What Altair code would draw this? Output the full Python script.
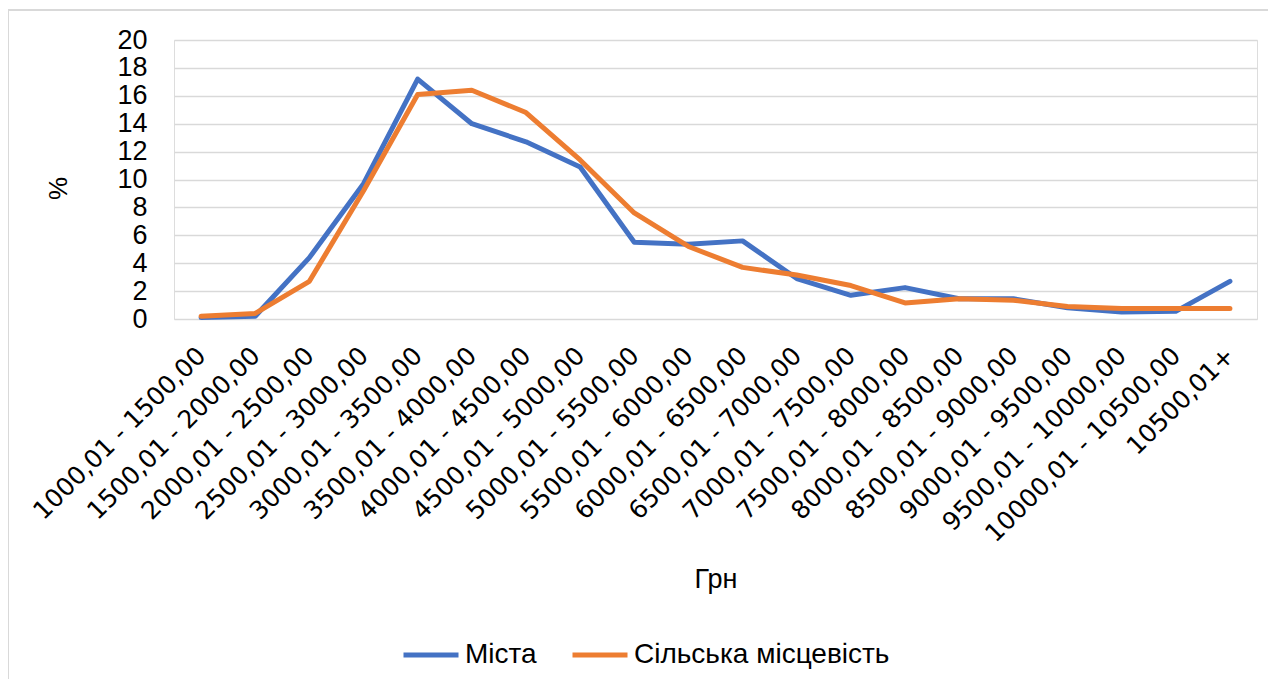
import altair as alt
import pandas as pd

categories = [
    "1000,01 - 1500,00", "1500,01 - 2000,00", "2000,01 - 2500,00", "2500,01 - 3000,00",
    "3000,01 - 3500,00", "3500,01 - 4000,00", "4000,01 - 4500,00", "4500,01 - 5000,00",
    "5000,01 - 5500,00", "5500,01 - 6000,00", "6000,01 - 6500,00", "6500,01 - 7000,00",
    "7000,01 - 7500,00", "7500,01 - 8000,00", "8000,01 - 8500,00", "8500,01 - 9000,00",
    "9000,01 - 9500,00", "9500,01 - 10000,00", "10000,01 - 10500,00", "10500,01+",
]
cities = [0.1, 0.2, 4.4, 9.7, 17.2, 14.0, 12.7, 10.9, 5.5, 5.35, 5.6, 2.9, 1.7, 2.25,
          1.45, 1.45, 0.8, 0.5, 0.55, 2.7]
rural = [0.2, 0.4, 2.7, 9.2, 16.1, 16.4, 14.8, 11.4, 7.6, 5.2, 3.7, 3.15, 2.4, 1.15,
         1.45, 1.35, 0.9, 0.75, 0.75, 0.75]
series_names = ["Міста", "Сільська місцевість"]
colors = ["#4472C4", "#ED7D31"]

rows = []
for i, c in enumerate(categories):
    rows.append({"cat": c, "series": series_names[0], "value": cities[i], "order": 0})
    rows.append({"cat": c, "series": series_names[1], "value": rural[i], "order": 1})
df = pd.DataFrame(rows)

frame = alt.Chart(pd.DataFrame({"a": [0]})).mark_rect(
    fillOpacity=0, stroke="#d9d9d9", strokeWidth=2
).encode(
    x=alt.value(-166), x2=alt.value(1200), y=alt.value(-30), y2=alt.value(700)
)

lines = alt.Chart(df).mark_line(strokeWidth=5, strokeCap="round", strokeJoin="round").encode(
    x=alt.X("cat:N", sort=categories, scale=alt.Scale(type="point", padding=0.5),
            axis=alt.Axis(title="Грн", labelAngle=-45, labelAlign="right", labelBaseline="middle",
                          labelFont="DejaVu Sans", labelFontSize=25, labelColor="#000000",
                          labelPadding=32, labelOverlap=False, labelLimit=400,
                          ticks=False, domain=False, grid=False,
                          titleFont="Liberation Sans", titleFontSize=27, titleFontWeight="normal",
                          titleColor="#000000", titleY=260, titleBaseline="middle")),
    y=alt.Y("value:Q", scale=alt.Scale(domain=[0, 20], nice=False),
            axis=alt.Axis(title="%", values=list(range(0, 21, 2)), labelFont="Liberation Sans",
                          labelFontSize=27, labelColor="#000000", labelPadding=27, ticks=False,
                          labelOverlap=False, domain=False, gridColor="#d9d9d9", gridWidth=1.5,
                          titleFont="Liberation Sans", titleFontSize=26, titleFontWeight="normal",
                          titleColor="#000000", titleAngle=-90, titleX=-116, titleY=148,
                          titleAlign="center", titleBaseline="middle")),
    color=alt.Color("series:N", sort=series_names,
                    scale=alt.Scale(domain=series_names, range=colors),
                    legend=alt.Legend(title=None, orient="none", direction="horizontal",
                                      legendX=227, legendY=585, symbolType="stroke",
                                      symbolSize=3025, symbolStrokeWidth=5,
                                      labelFont="Liberation Sans", labelFontSize=28,
                                      labelColor="#000000", labelOffset=4, columnPadding=25,
                                      labelLimit=400)),
    order="order:Q",
)

chart = alt.layer(frame, lines).properties(
    width=1083, height=279,
    autosize=alt.AutoSizeParams(type="none"),
    padding={"left": 166, "top": 32, "right": 11, "bottom": 360},
).configure_view(stroke=None).configure(background="white")

chart.save("out.html", embed_options={"renderer": "svg", "actions": False})
